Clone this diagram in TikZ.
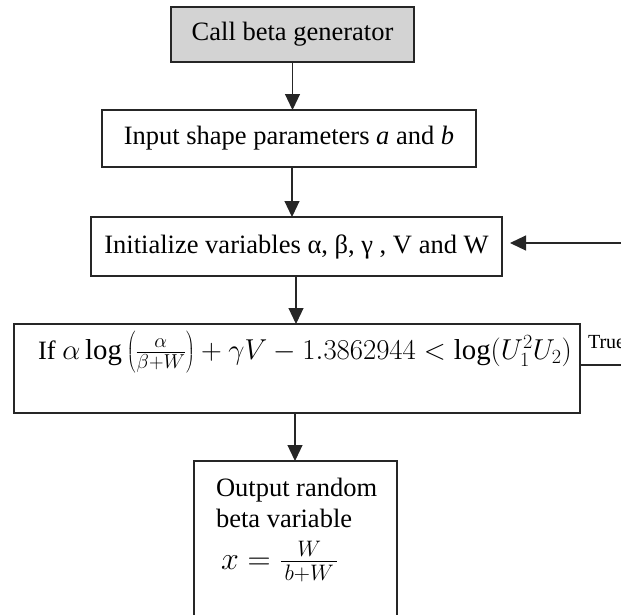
\RequirePackage{fix-cm}
\documentclass[tikz,border=0pt]{standalone}
\usepackage{fontspec}
\setmainfont{Liberation Serif}
\usetikzlibrary{arrows.meta}
\definecolor{boxgray}{RGB}{211,211,211}
\begin{document}
\begin{tikzpicture}[x=1pt,y=-1pt,
  every node/.style={inner sep=0pt,outer sep=0pt},
  box/.style={draw=black!85,line width=1.2pt,rectangle},
  txt/.style={font=\fontsize{26.5}{31}\selectfont},
  conn/.style={line width=1.2pt,draw=black!85},
  arr/.style={conn,-{Triangle[width=15pt,length=16pt]}}]
\useasboundingbox (0,0) rectangle (621,614);
\clip (0,0) rectangle (621,614);
% boxes
\node[box,fill=boxgray,minimum width=243pt,minimum height=55pt] (b1) at (292.5,34.5) {};
\node[txt] (t1) at (292.5,34.5) {Call beta generator};
\node[box,minimum width=374pt,minimum height=57pt] (b2) at (289,138.5) {};
\node[txt] (t2) at (289,138.5) {Input shape parameters \textit{a} and \textit{b}};
\node[box,minimum width=411pt,minimum height=59pt] (b3) at (296.5,246.5) {};
\node[txt] (t3) at (296.5,246.5) {Initialize variables α, β, γ , V and W};
\node[box,minimum width=566pt,minimum height=89pt] (b4) at (297,368.5) {};
\node[txt,anchor=base west] (t4) at (38,359) {If {\fontsize{28.8}{33}\selectfont$\alpha\log\left(\frac{\alpha}{\beta+W}\right)+\gamma V-1.3862944<\log(U_1^2U_2)$}};
\node[box,minimum width=203pt,minimum height=200pt,anchor=north] (b5) at (295.5,461) {};
\node[txt,anchor=base west] (t5a) at (216,496) {Output random};
\node[txt,anchor=base west] (t5b) at (216,527) {beta variable};
\node[anchor=base west,font=\fontsize{32}{38}\selectfont] (t6) at (221,569) {$x=\frac{W}{\,b+W\,}$};
\node[anchor=base west,font=\fontsize{20}{22}\selectfont] (tt) at (588,348) {True};
% connectors
\draw[arr] (b1.south) -- (b2.north -| b1.south);
\draw[arr] (b2.south -| 292,0) -- (b3.north -| 292,0);
\draw[arr] (b3.south -| 296,0) -- (b4.north -| 296,0);
\draw[arr] (b4.south -| 295,0) -- (b5.north -| 295,0);
\coordinate (r1) at (640,243);
\coordinate (r2) at (640,365);
\draw[conn] (b4.east |- r2) -- (r2) -- (r1);
\draw[arr] (r1) -- ([xshift=8pt]b3.east |- r1);
\end{tikzpicture}
\end{document}
